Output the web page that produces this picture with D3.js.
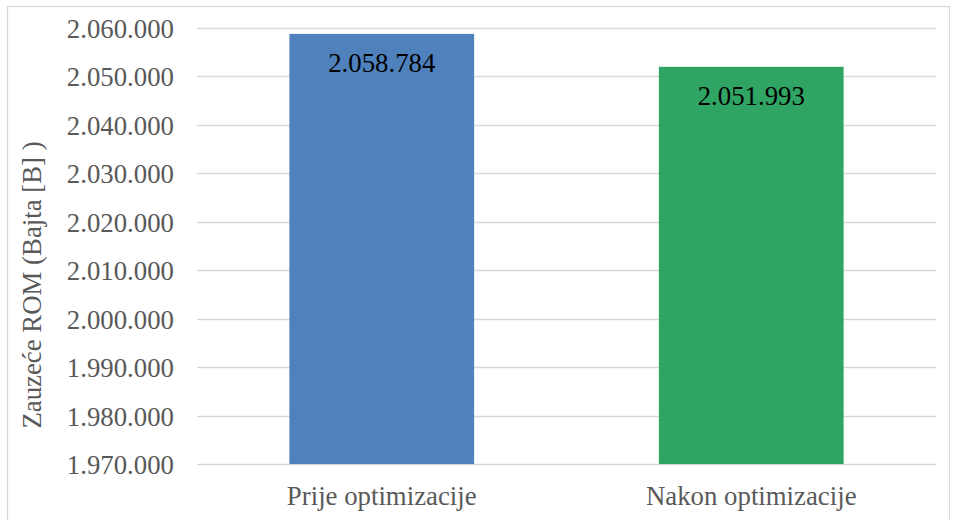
<!DOCTYPE html>
<head>
	<meta charset="utf-8">
	<title>Zauzece ROM</title>
<style>
	body {
		margin:0;
		background-color: #ffffff;
	}
	svg { display:block; font-family: "Liberation Serif", serif; }
	.grid line { stroke: #d9d9d9; stroke-width: 1.3px; }
	.tick-lbl { fill: #595959; font-size: 26.8px; }
</style>
</head>
<script src="https://d3js.org/d3.v7.min.js"></script>
<body>
<script>
	// podaci
	var categories = ["Prije optimizacije", "Nakon optimizacije"];
	var values = [2058784, 2051993];
	var barColors = ["#4f81bd", "#30a463"];
	var yTicks = [1970000, 1980000, 1990000, 2000000, 2010000, 2020000, 2030000, 2040000, 2050000, 2060000];

	var width = 956, height = 520;
	var plotLeft = 197, plotRight = 936, plotTop = 28, plotBottom = 464;

	var svg = d3.select("body").append("svg")
		.attr("width", width)
		.attr("height", height)
		.attr("font-family", "Liberation Serif, serif");

	// okvir
	svg.append("rect")
		.attr("x", 7.5).attr("y", 6.5)
		.attr("width", 942).attr("height", 520)
		.attr("fill", "none")
		.attr("stroke", "#d9d9d9")
		.attr("stroke-width", 1.3);

	var y = d3.scaleLinear().domain([1970000, 2060000]).range([plotBottom, plotTop]);
	var x = d3.scaleBand().domain(categories).range([plotLeft, plotRight])
		.paddingInner(0.5).paddingOuter(0.25);

	// format 2.060.000
	var fmt = d3.formatLocale({decimal: ",", thousands: ".", grouping: [3], currency: ["", ""]}).format(",d");

	var grid = svg.append("g").attr("class", "grid");
	grid.selectAll("line")
		.data(yTicks)
		.enter().append("line")
		.attr("x1", plotLeft).attr("x2", plotRight)
		.attr("y1", function(d) { return Math.round(y(d)) + 0.5; })
		.attr("y2", function(d) { return Math.round(y(d)) + 0.5; });

	svg.selectAll("text.tick-lbl")
		.data(yTicks)
		.enter().append("text")
		.attr("class", "tick-lbl")
		.attr("x", 174)
		.attr("y", function(d) { return y(d) + 10; })
		.attr("text-anchor", "end")
		.text(fmt);

	svg.selectAll("rect.bar")
		.data(values)
		.enter().append("rect")
		.attr("class", "bar")
		.attr("x", function(d, i) { return x(categories[i]); })
		.attr("width", x.bandwidth())
		.attr("y", function(d) { return y(d); })
		.attr("height", function(d) { return plotBottom - y(d); })
		.attr("fill", function(d, i) { return barColors[i]; });

	// vrijednosti na stupcima
	svg.selectAll("text.val")
		.data(values)
		.enter().append("text")
		.attr("class", "val")
		.attr("x", function(d, i) { return x(categories[i]) + x.bandwidth() / 2; })
		.attr("y", function(d) { return y(d) + 38; })
		.attr("text-anchor", "middle")
		.attr("fill", "#000000")
		.style("font-size", "26.8px")
		.text(fmt);

	svg.selectAll("text.cat")
		.data(categories)
		.enter().append("text")
		.attr("class", "cat")
		.attr("x", function(d) { return x(d) + x.bandwidth() / 2; })
		.attr("y", 505)
		.attr("text-anchor", "middle")
		.attr("fill", "#595959")
		.style("font-size", "26.8px")
		.text(function(d) { return d; });

	svg.append("text")
		.attr("transform", "translate(41,285) rotate(-90)")
		.attr("text-anchor", "middle")
		.attr("fill", "#595959")
		.style("font-size", "26.8px")
		.text("Zauzeće ROM (Bajta [B] )");
</script>
</body>
